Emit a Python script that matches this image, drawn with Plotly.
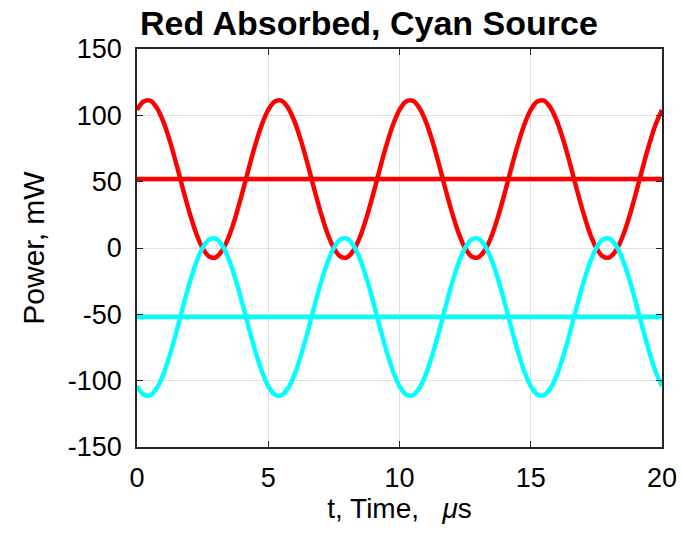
import plotly.graph_objects as go

# Time axis samples, microseconds
t_us = [i * 0.25 for i in range(81)]

# One period (5 us) of the red (absorbed) power, mW
red_period = [104.1, 110.4, 111.0, 105.8, 95.4, 80.7, 63.2, 44.5, 26.7, 11.3,
              -0.1, -6.4, -7.0, -1.8, 8.6, 23.3, 40.8, 59.5, 77.3, 92.7]
red_power = red_period * 4 + [104.1]
cyan_power = [-v for v in red_power]

red_mean = 52.0
cyan_mean = -52.0

x_ticks = [0, 5, 10, 15, 20]
y_ticks = [-150, -100, -50, 0, 50, 100, 150]
y_tick_text = ["-150", "-100", "-50", "0", "50", "100", "150"]

fig = go.Figure()
fig.add_trace(go.Scatter(x=t_us, y=red_power, mode="lines", line=dict(color="#ff0000", width=4.5, shape="spline")))
fig.add_trace(go.Scatter(x=[t_us[0], t_us[-1]], y=[red_mean, red_mean], mode="lines", line=dict(color="#ff0000", width=4.5)))
fig.add_trace(go.Scatter(x=t_us, y=cyan_power, mode="lines", line=dict(color="#00ffff", width=4.5, shape="spline")))
fig.add_trace(go.Scatter(x=[t_us[0], t_us[-1]], y=[cyan_mean, cyan_mean], mode="lines", line=dict(color="#00ffff", width=4.5)))

font_family = "Liberation Sans, Arial, sans-serif"
fig.update_layout(
    width=681, height=540,
    margin=dict(l=137, r=19, t=49, b=93, autoexpand=False),
    paper_bgcolor="white", plot_bgcolor="white",
    showlegend=False,
    font=dict(family=font_family, color="black", size=27),
    title=dict(text="<b>Red Absorbed, Cyan Source</b>", x=140/681, xanchor="left",
               y=1 - 23/540, yanchor="middle", font=dict(size=34, family=font_family)),
)
fig.update_xaxes(
    range=[0, 20], tickvals=x_ticks, ticks="inside", ticklen=6, tickcolor="#262626",
    showline=True, linecolor="#262626", linewidth=1.5, mirror="ticks",
    showgrid=True, gridcolor="#e0e0e0", gridwidth=1, zeroline=False,
    ticklabelstandoff=6, automargin=False,
    title=dict(text="t, Time,   <i>μ</i>s", standoff=6, font=dict(size=28)),
    tickfont=dict(size=27),
)
fig.update_yaxes(
    range=[-150, 150], tickvals=y_ticks, ticktext=y_tick_text, ticks="inside", ticklen=6,
    tickcolor="#262626",
    showline=True, linecolor="#262626", linewidth=1.5, mirror="ticks",
    showgrid=True, gridcolor="#e0e0e0", gridwidth=1, zeroline=False,
    ticklabelstandoff=8, automargin=False,
    title=dict(text="Power, mW", standoff=14, font=dict(size=30)),
    tickfont=dict(size=27),
)
fig.write_html("out.html")
